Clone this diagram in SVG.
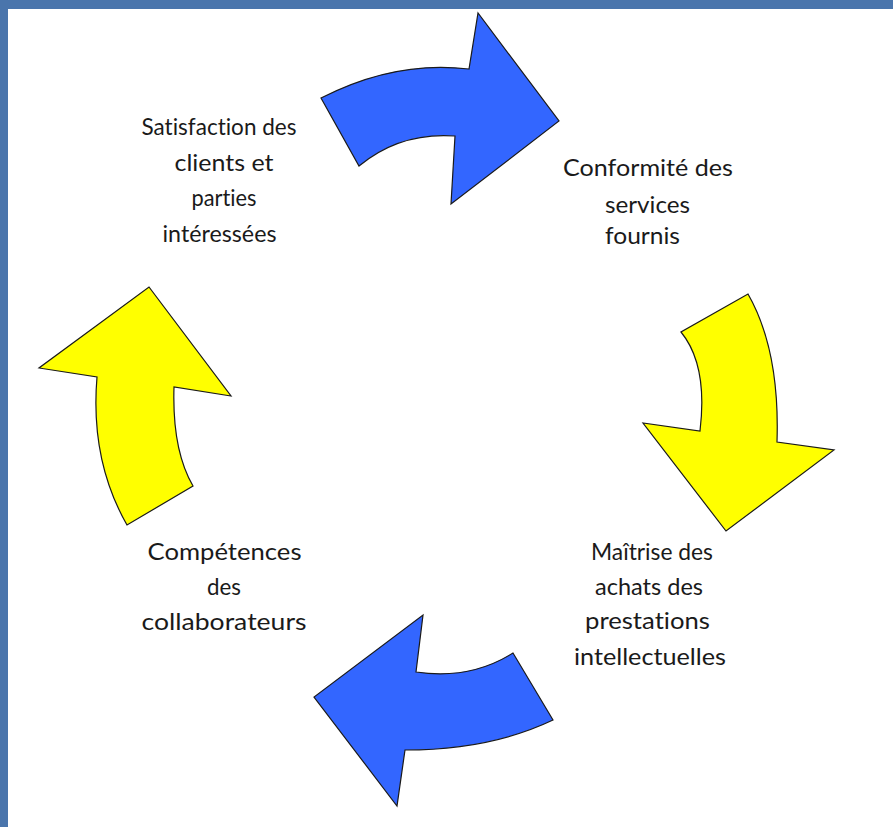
<svg xmlns="http://www.w3.org/2000/svg" width="893" height="827" viewBox="0 0 893 827">
<style>
.frame{fill:#4A75AC}
.blue{fill:#3366FF;stroke:#1a1a1a;stroke-width:1.2;stroke-linejoin:miter}
.yellow{fill:#FFFF00;stroke:#1a1a1a;stroke-width:1.2;stroke-linejoin:miter}
.lbl{font-family:Lato,"Liberation Sans",sans-serif;font-size:24px;fill:#1a1a1a;text-anchor:middle;font-variant-ligatures:none;font-feature-settings:"liga" 0}
</style>
<rect x="0" y="0" width="893" height="827" fill="#ffffff"/>
<rect class="frame" x="0" y="0" width="893" height="9"/>
<rect class="frame" x="0" y="0" width="8" height="827"/>
<g id="connectors">
<path id="arrow-top" class="blue" d="M321,98 Q395,60 469,69 L478,13 L559,121 L451,204 L455,136 Q400,132 359,166 Z"/>
<path id="arrow-right" class="yellow" d="M748,294 Q780,350 777,442 L834,450 L726,531 L643,423 L700,431 Q708,365 681,332 Z"/>
<path id="arrow-bottom" class="blue" d="M553,720 Q490,750 405,750 L397,806 L314,697 L423,615 L416,672 Q470,680 513,653 Z"/>
<path id="arrow-left" class="yellow" d="M127,525 Q90,460 97,377 L39,368 L149,287 L231,396 L174,387 Q172,450 193,486 Z"/>
</g>
<g id="node-satisfaction">
<text class="lbl" x="219" y="135" textLength="155" lengthAdjust="spacingAndGlyphs">Satisfaction des</text>
<text class="lbl" x="224" y="170.5" textLength="99" lengthAdjust="spacingAndGlyphs">clients et</text>
<text class="lbl" x="224" y="206" textLength="65" lengthAdjust="spacingAndGlyphs">parties</text>
<text class="lbl" x="219.5" y="241.5" textLength="114" lengthAdjust="spacingAndGlyphs">intéressées</text>
</g>
<g id="node-conformite">
<text class="lbl" x="648" y="176" textLength="170" lengthAdjust="spacingAndGlyphs">Conformité des</text>
<text class="lbl" x="647.5" y="213" textLength="85" lengthAdjust="spacingAndGlyphs">services</text>
<text class="lbl" x="642.5" y="244" textLength="75" lengthAdjust="spacingAndGlyphs">fournis</text>
</g>
<g id="node-maitrise">
<text class="lbl" x="652" y="560" textLength="122" lengthAdjust="spacingAndGlyphs">Maîtrise des</text>
<text class="lbl" x="649" y="595" textLength="108" lengthAdjust="spacingAndGlyphs">achats des</text>
<text class="lbl" x="647.5" y="629" textLength="125" lengthAdjust="spacingAndGlyphs">prestations</text>
<text class="lbl" x="650" y="665" textLength="152" lengthAdjust="spacingAndGlyphs">intellectuelles</text>
</g>
<g id="node-competences">
<text class="lbl" x="224.5" y="560" textLength="154" lengthAdjust="spacingAndGlyphs">Compétences</text>
<text class="lbl" x="224" y="595" textLength="34" lengthAdjust="spacingAndGlyphs">des</text>
<text class="lbl" x="224" y="630" textLength="165" lengthAdjust="spacingAndGlyphs">collaborateurs</text>
</g>
</svg>
